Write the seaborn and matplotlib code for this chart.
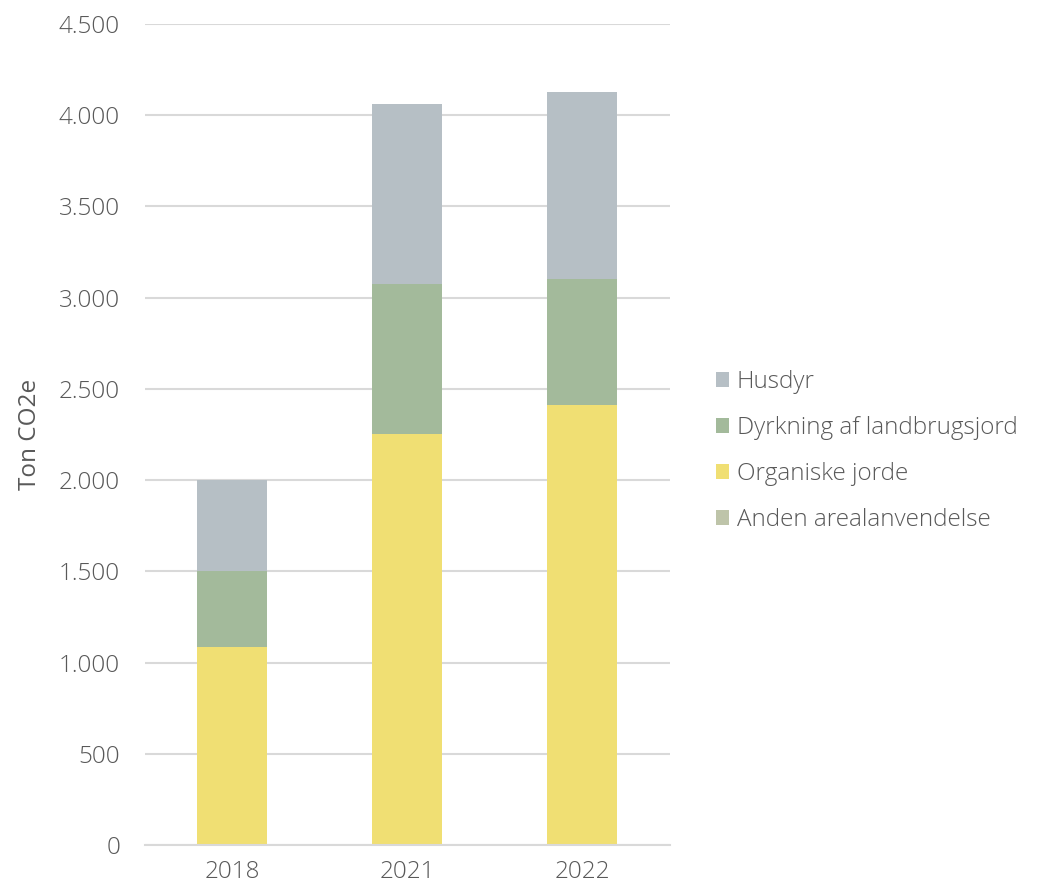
import matplotlib
matplotlib.use("Agg")
from matplotlib import pyplot as plt
from matplotlib.patches import Patch
from matplotlib.ticker import FuncFormatter
import pandas as pd
import seaborn as sns

# values (ton CO2e)
years = ["2018", "2021", "2022"]
anden = [0, 0, 0]
organiske = [1088, 2255, 2410]
dyrkning = [416, 820, 695]
husdyr = [495, 989, 1021]

categories = ["Husdyr", "Dyrkning af landbrugsjord", "Organiske jorde", "Anden arealanvendelse"]
colors = {
    "Husdyr": "#B6BFC5",
    "Dyrkning af landbrugsjord": "#A3BA9B",
    "Organiske jorde": "#F0DF73",
    "Anden arealanvendelse": "#BEC4A9",
}

df = pd.DataFrame({
    "year": years,
    "Anden arealanvendelse": anden,
    "Organiske jorde": organiske,
    "Dyrkning af landbrugsjord": dyrkning,
    "Husdyr": husdyr,
})

# cumulative tops for stacking, bottom segment first
stack_order = ["Anden arealanvendelse", "Organiske jorde", "Dyrkning af landbrugsjord", "Husdyr"]
cum = df[stack_order].cumsum(axis=1)
cum["year"] = df["year"]

sns.set_style("white")
plt.rcParams["font.family"] = ["Open Sans", "DejaVu Sans"]
plt.rcParams["font.weight"] = "light"
text_color = "#595959"
fs = 17.5

fig = plt.figure(figsize=(10.4, 8.86), dpi=100)
ax = fig.add_axes([145 / 1040, 41 / 886, 525 / 1040, 821 / 886])

# draw tallest first so the lower segments sit on top
for cat in reversed(stack_order):
    sns.barplot(data=cum, x="year", y=cat, color=colors[cat], width=0.4,
                saturation=1, ax=ax, zorder=2, linewidth=0)

ax.set_ylim(0, 4500)
ax.set_xlim(-0.5, 2.5)
ax.set_yticks(range(0, 4501, 500))
ax.yaxis.set_major_formatter(FuncFormatter(lambda v, p: f"{int(v):,}".replace(",", ".")))
ax.grid(axis="y", color="#D9D9D9", linewidth=1.5, zorder=0)
ax.set_axisbelow(True)
for s in ["top", "right", "left"]:
    ax.spines[s].set_visible(False)
ax.spines["bottom"].set_color("#D9D9D9")
ax.spines["bottom"].set_linewidth(1.5)
ax.tick_params(axis="y", length=0, labelsize=fs, colors=text_color, pad=18)
ax.tick_params(axis="x", length=0, labelsize=fs, colors=text_color, pad=11)
ax.set_xlabel("")
ax.set_ylabel("Ton CO2e", fontsize=fs, color=text_color, labelpad=12)

handles = [Patch(facecolor=colors[c], edgecolor="none") for c in categories]
fig.legend(handles, categories, loc="center left", bbox_to_anchor=(694 / 1040, 1 - 451 / 886),
           frameon=False, fontsize=fs, labelcolor=text_color, handlelength=0.55,
           handleheight=0.55, handletextpad=0.3, labelspacing=0.9)

fig.savefig("out.png", dpi=100)
